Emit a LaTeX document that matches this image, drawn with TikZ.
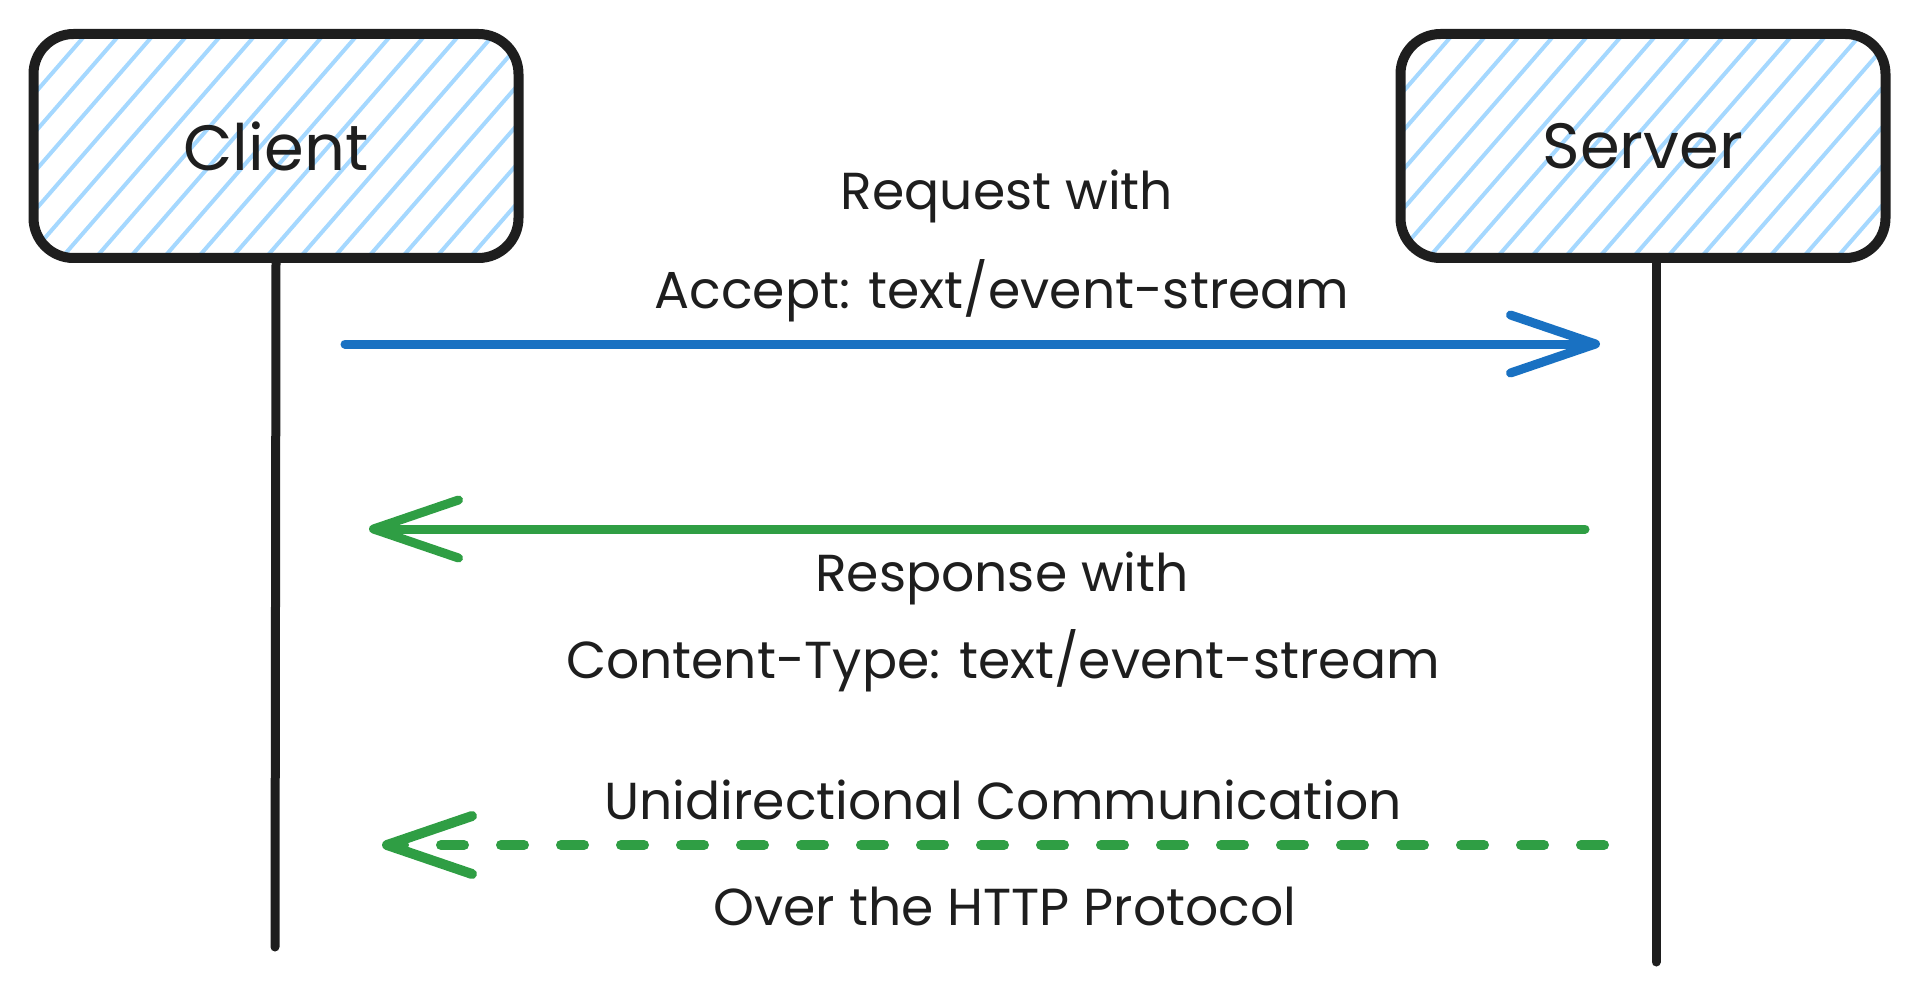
\documentclass[tikz,border=0pt]{standalone}
\usepackage{fontspec}
\setmainfont{Poppins}
\usepackage{xcolor}
\usetikzlibrary{arrows.meta,positioning,calc}
\definecolor{inkc}{HTML}{1E1E1E}
\definecolor{hatchc}{HTML}{A5D8FF}
\definecolor{reqc}{HTML}{1971C2}
\definecolor{respc}{HTML}{2F9E44}

\begin{document}
\begin{tikzpicture}[x=1pt,y=-1pt,
  party/.style={draw=inkc,line width=10pt,rounded corners=40pt,
     minimum width=485pt,minimum height=224pt,text=inkc,
     font=\fontsize{64}{76}\selectfont,
     path picture={\foreach \k in {0,...,21}
        \draw[hatchc,line width=4pt]
          ([xshift=\k*34pt-210pt]path picture bounding box.south west) -- ++(49:330pt);}},
  life/.style={inkc,line width=9pt,line cap=round},
  msg/.style={line width=9pt,line cap=round,
     -{Straight Barb[length=85pt,width=58pt,round]}},
  lbl/.style={text=inkc,font=\fontsize{52}{62}\selectfont,inner sep=0pt},
]
\useasboundingbox (0,0) rectangle (1920,995);

% the two parties and their lifelines
\node[party] (client) at (276,146) {Client};
\node[party] (server) at (1643,146) {Server};
\coordinate (clientend) at (275,947);
\coordinate (serverend) at (1656,962);
\draw[life] (client.south) -- (clientend);
\draw[life] (server.south -| serverend) -- (serverend);

% message ends
\coordinate (reqs) at (345,344);
\coordinate (reqe) at (1600,344);
\coordinate (resps) at (1585,529);
\coordinate (respe) at (369,529);
\coordinate (pushs) at (1604,845);
\coordinate (pushe) at (382,845);

\draw[msg,reqc] (reqs) -- (reqe);
\draw[msg,respc] (resps) -- (respe);
\draw[msg,respc,line width=10pt,dash pattern=on 23pt off 37pt] (pushs) -- (pushe);

\node[lbl] (reqtop) at (1007,196) {Request with};
\node[lbl] (reqhdr) at (1002,291) {Accept: text/event-stream};
\node[lbl] (resptop) at (1002,578) {Response with};
\node[lbl] (resphdr) at (1003,661) {Content-Type: text/event-stream};
\node[lbl] (pushtop) at (1003,800) {Unidirectional Communication};
\node[lbl] (pushbot) at (1005,906) {Over the HTTP Protocol};
\end{tikzpicture}
\end{document}
